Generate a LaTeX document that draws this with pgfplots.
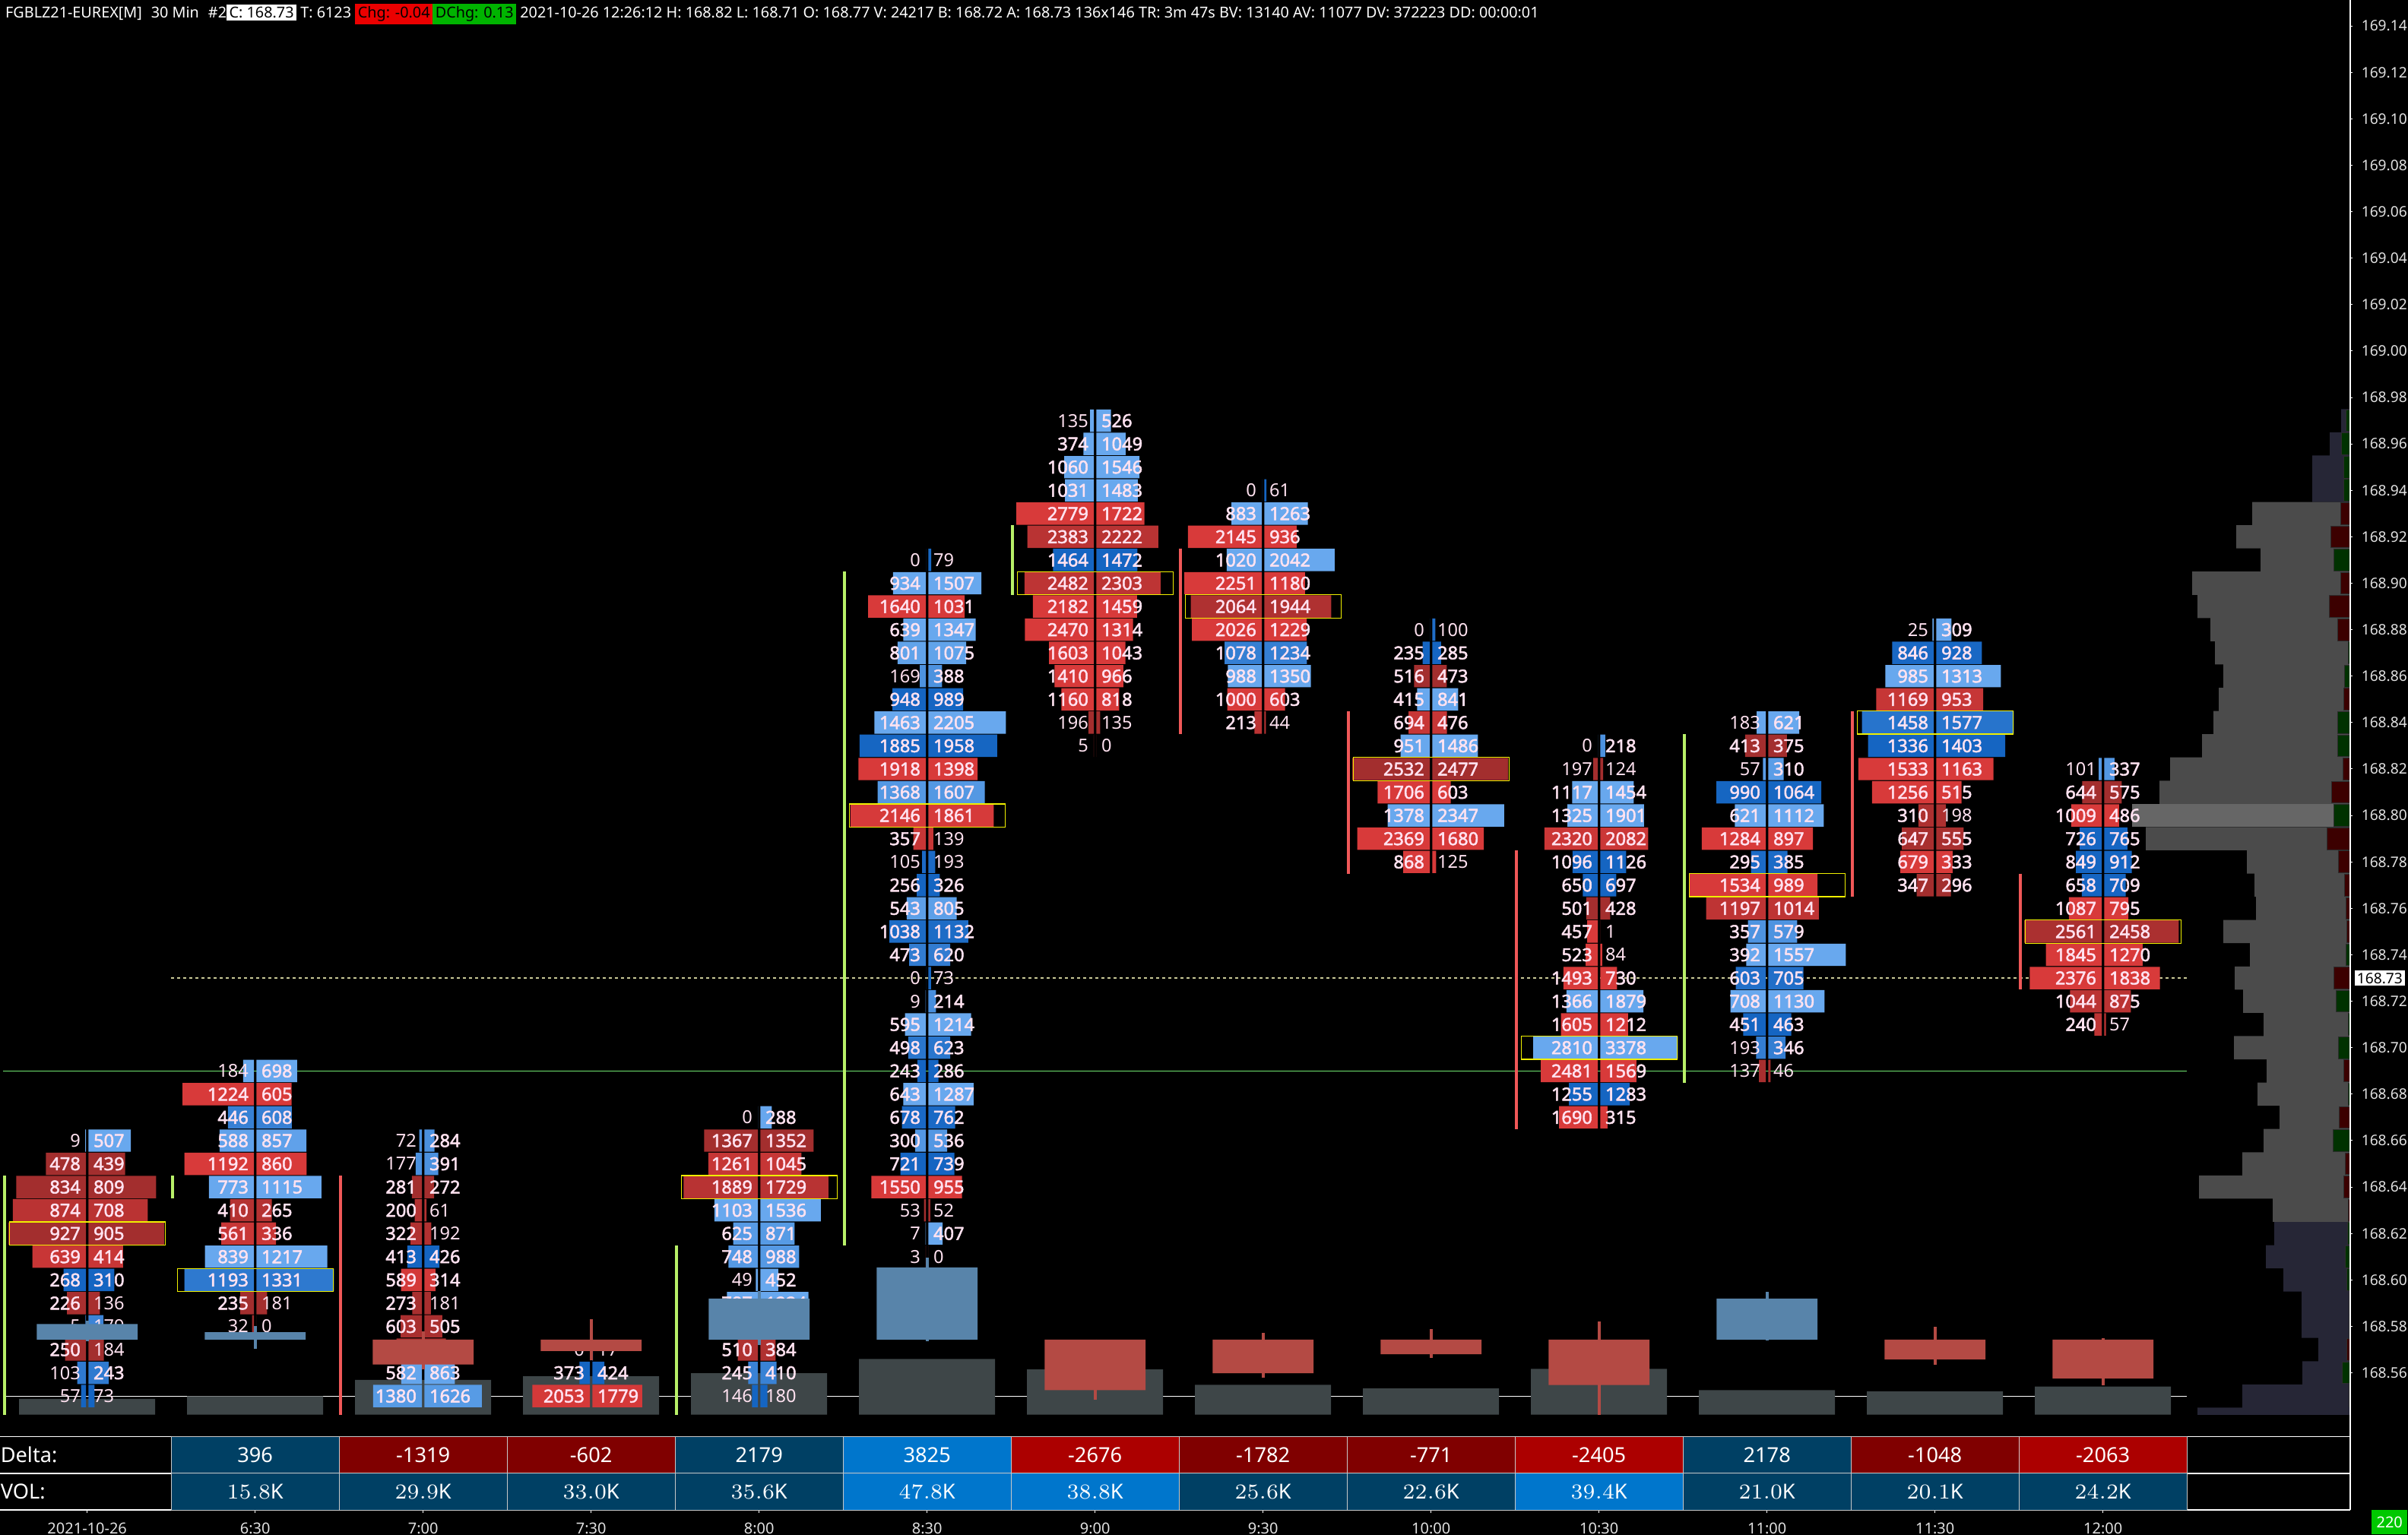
\documentclass[border=0pt]{standalone}
\usepackage{fontspec}
\setmainfont{Noto Sans}
\newfontfamily\fpB{Noto Sans}[FakeBold=2.2]
\usepackage{pgfplots}
\pgfplotsset{compat=1.18}
\usepackage{pgfplotstable}

% colours
\definecolor{fpRb}{RGB}{216,58,58}
\definecolor{fpRd}{RGB}{163,46,46}
\definecolor{fpBb}{RGB}{104,168,238}
\definecolor{fpBd}{RGB}{21,101,194}
\definecolor{fpTx}{RGB}{255,226,240}
\definecolor{fpY}{RGB}{240,240,0}
\definecolor{volG}{RGB}{62,70,72}
\definecolor{cdB}{RGB}{88,132,170}
\definecolor{cdR}{RGB}{180,74,68}
\definecolor{prG}{RGB}{75,75,75}
\definecolor{prP}{RGB}{102,102,102}
\definecolor{prN}{RGB}{38,38,54}
\definecolor{mkG}{RGB}{0,50,0}
\definecolor{mkR}{RGB}{60,0,0}
\definecolor{mkL}{RGB}{45,45,45}
\definecolor{vaG}{RGB}{184,240,104}
\definecolor{vaR}{RGB}{240,88,88}
\definecolor{lnG}{RGB}{112,232,112}
\definecolor{lnD}{RGB}{200,200,150}
\definecolor{tbDB}{RGB}{0,64,100}
\definecolor{tbBB}{RGB}{0,118,204}
\definecolor{tbDR}{RGB}{128,0,0}
\definecolor{tbBR}{RGB}{172,0,0}
\definecolor{tbL}{RGB}{200,200,200}
\definecolor{axTx}{RGB}{225,225,225}
\definecolor{hdRed}{RGB}{235,0,0}
\definecolor{hdGrn}{RGB}{0,180,0}
\definecolor{boxG}{RGB}{0,200,0}

\pgfdeclareplotmark{fpnone}{}
\pgfdeclareplotmark{fppoc}{%
  \pgfpathrectangle{\pgfpoint{-25.6pt}{-3.8pt}}{\pgfpoint{51.2pt}{7.6pt}}%
  \pgfusepathqstroke}

\newcommand\fpnum[1]{\ifnum#1<200 \else\fpB\fi #1}
\newcommand\fpcell{%
  \pgfmathtruncatemacro\fpbi{\fpb}%
  \pgfmathtruncatemacro\fpai{\fpa}%
  \pgfmathsetmacro\fpl{(\fpb/\fpm)*25.5}%
  \pgfmathsetmacro\fpr{(\fpa/\fpm)*25.5}%
  \pgfmathsetmacro\fpd{\fpa-\fpb}%
  \pgfmathtruncatemacro\fpt{max(0,min(100,(abs(\fpd)-70)/2.2))}%
  \ifdim\fpd pt<0pt\colorlet{fpc}{fpRb!\fpt!fpRd}\else\colorlet{fpc}{fpBb!\fpt!fpBd}\fi
  \pgfscope
  \pgfsetfillcolor{fpc}%
  \pgfpathrectangle{\pgfpoint{-\fpl pt-0.42pt}{-3.68pt}}{\pgfpoint{\fpl pt}{7.36pt}}%
  \pgfpathrectangle{\pgfpoint{0.42pt}{-3.68pt}}{\pgfpoint{\fpr pt}{7.36pt}}%
  \pgfusepath{fill}%
  \pgftext[right,at=\pgfpoint{-2.2pt}{0pt}]{\fontsize{5.9}{6}\selectfont\color{fpTx}\fpnum\fpbi}%
  \pgftext[left,at=\pgfpoint{2.1pt}{0pt}]{\fontsize{5.9}{6}\selectfont\color{fpTx}\fpnum\fpai}%
  \endpgfscope}
\newcommand\tbcell{%
  \pgfmathtruncatemacro\tbci{\tbc}%
  \ifcase\tbci\relax\def\tbcc{tbDB}\or\def\tbcc{tbBB}\or\def\tbcc{tbDR}\or\def\tbcc{tbBR}\fi
  \pgfscope
  \pgfsetfillcolor{\tbcc}\pgfsetstrokecolor{tbL}\pgfsetlinewidth{0.25pt}%
  \pgfpathrectangle{\pgfpoint{-27.62pt}{-6.04pt}}{\pgfpoint{55.25pt}{12.07pt}}%
  \pgfusepath{fill,stroke}%
  \pgftext{\fontsize{6.8}{7}\selectfont\color{white}\tbtext}%
  \endpgfscope}
\newcommand\tbdelta{\pgfmathtruncatemacro\tbi{\tbv}\tbi}
\newcommand\tbvol{\pgfmathprintnumber[fixed,fixed zerofill,precision=1]{\tbv}K}
\newcommand\hbx[3]{{\fboxsep=0.9pt\colorbox{#1}{\textcolor{#2}{#3}}}}

\pgfplotsset{
  fp/.style={only marks, scatter, mark=fpnone,
    visualization depends on={\thisrow{b}\as\fpb},
    visualization depends on={\thisrow{a}\as\fpa},
    visualization depends on={#1\as\fpm},
    scatter/@pre marker code/.code={\fpcell},
    scatter/@post marker code/.code={}},
  tb/.style 2 args={only marks, scatter, mark=fpnone,
    visualization depends on={\thisrow{#1}\as\tbv},
    visualization depends on={\thisrow{#1c}\as\tbc},
    scatter/@pre marker code/.code={\let\tbtext#2\tbcell},
    scatter/@post marker code/.code={}},
  lay/.style={at={(0pt,-0.5pt)}, anchor=north west, scale only axis,
    width=773pt, height=464.9pt},
}

% footprint columns: price, bid, ask
\pgfplotstableread{
y b a
168.66 9 507
168.65 478 439
168.64 834 809
168.63 874 708
168.62 927 905
168.61 639 414
168.60 268 310
168.59 226 136
168.58 5 179
168.57 250 184
168.56 103 243
168.55 57 73
168.54 21 183
}\colA
\pgfplotstableread{
y b a
168.69 184 698
168.68 1224 605
168.67 446 608
168.66 588 857
168.65 1192 860
168.64 773 1115
168.63 410 265
168.62 561 336
168.61 839 1217
168.60 1193 1331
168.59 235 181
168.58 32 0
}\colB
\pgfplotstableread{
y b a
168.66 72 284
168.65 177 391
168.64 281 272
168.63 200 61
168.62 322 192
168.61 413 426
168.60 589 314
168.59 273 181
168.58 603 505
168.57 720 610
168.56 582 863
168.55 1380 1626
168.54 2195 2044
}\colC
\pgfplotstableread{
y b a
168.57 0 17
168.56 373 424
168.55 2053 1779
168.54 2622 2530
}\colD
\pgfplotstableread{
y b a
168.67 0 288
168.66 1367 1352
168.65 1261 1045
168.64 1889 1729
168.63 1103 1536
168.62 625 871
168.61 748 988
168.60 49 452
168.59 787 1224
168.58 905 1164
168.57 510 384
168.56 245 410
168.55 146 180
168.54 232 522
}\colE
\pgfplotstableread{
y b a
168.91 0 79
168.90 934 1507
168.89 1640 1031
168.88 639 1347
168.87 801 1075
168.86 169 388
168.85 948 989
168.84 1463 2205
168.83 1885 1958
168.82 1918 1398
168.81 1368 1607
168.80 2146 1861
168.79 357 139
168.78 105 193
168.77 256 326
168.76 543 805
168.75 1038 1132
168.74 473 620
168.73 0 73
168.72 9 214
168.71 595 1214
168.70 498 623
168.69 243 286
168.68 643 1287
168.67 678 762
168.66 300 536
168.65 721 739
168.64 1550 955
168.63 53 52
168.62 7 407
168.61 3 0
}\colF
\pgfplotstableread{
y b a
168.97 135 526
168.96 374 1049
168.95 1060 1546
168.94 1031 1483
168.93 2779 1722
168.92 2383 2222
168.91 1464 1472
168.90 2482 2303
168.89 2182 1459
168.88 2470 1314
168.87 1603 1043
168.86 1410 966
168.85 1160 818
168.84 196 135
168.83 5 0
}\colG
\pgfplotstableread{
y b a
168.94 0 61
168.93 883 1263
168.92 2145 936
168.91 1020 2042
168.90 2251 1180
168.89 2064 1944
168.88 2026 1229
168.87 1078 1234
168.86 988 1350
168.85 1000 603
168.84 213 44
}\colH
\pgfplotstableread{
y b a
168.88 0 100
168.87 235 285
168.86 516 473
168.85 415 841
168.84 694 476
168.83 951 1486
168.82 2532 2477
168.81 1706 603
168.80 1378 2347
168.79 2369 1680
168.78 868 125
}\colI
\pgfplotstableread{
y b a
168.83 0 218
168.82 197 124
168.81 1117 1454
168.80 1325 1901
168.79 2320 2082
168.78 1096 1126
168.77 650 697
168.76 501 428
168.75 457 1
168.74 523 84
168.73 1493 730
168.72 1366 1879
168.71 1605 1212
168.70 2810 3378
168.69 2481 1569
168.68 1255 1283
168.67 1690 315
}\colJ
\pgfplotstableread{
y b a
168.84 183 621
168.83 413 375
168.82 57 310
168.81 990 1064
168.80 621 1112
168.79 1284 897
168.78 295 385
168.77 1534 989
168.76 1197 1014
168.75 357 579
168.74 392 1557
168.73 603 705
168.72 708 1130
168.71 451 463
168.70 193 346
168.69 137 46
}\colK
\pgfplotstableread{
y b a
168.88 25 309
168.87 846 928
168.86 985 1313
168.85 1169 953
168.84 1458 1577
168.83 1336 1403
168.82 1533 1163
168.81 1256 515
168.80 310 198
168.79 647 555
168.78 679 333
168.77 347 296
}\colL
\pgfplotstableread{
y b a
168.82 101 337
168.81 644 575
168.80 1009 486
168.79 726 765
168.78 849 912
168.77 658 709
168.76 1087 795
168.75 2561 2458
168.74 1845 1270
168.73 2376 1838
168.72 1044 875
168.71 240 57
}\colM

% delta / volume (K) table; colour codes: 0 dark blue, 1 blue, 2 dark red, 3 red
\pgfplotstableread{
x d dc v vc
1 396 0 15.8 0
2 -1319 2 29.9 0
3 -602 2 33.0 0
4 2179 0 35.6 0
5 3825 1 47.8 1
6 -2676 3 38.8 1
7 -1782 2 25.6 0
8 -771 2 22.6 0
9 -2405 3 39.4 1
10 2178 0 21.0 0
11 -1048 2 20.1 0
12 -2063 3 24.2 0
}\tabdata

\begin{document}
\begin{tikzpicture}
\fill[black] (0pt,0pt) rectangle (792pt,-505pt);

% volume bars
\begin{axis}[lay, hide axis, xmin=-0.519, xmax=13.472, ymin=0, ymax=1215.5]
\addplot[white, line width=0.3pt] coordinates {(-0.5,15.8) (12.5,15.8)};
\addplot[ybar, bar width=0.81, bar shift=0, fill=volG, draw=none] coordinates {
(0,13.5) (1,15.8) (2,29.9) (3,33.0) (4,35.6) (5,47.8) (6,38.8)
(7,25.6) (8,22.6) (9,39.4) (10,21.0) (11,20.1) (12,24.2)};
\end{axis}

% volume profile at the right edge
\begin{axis}[lay, hide axis, x dir=reverse, xmin=0, xmax=3092, ymin=168.542, ymax=169.1505]
\addplot[xbar, bar width=0.01, bar shift=0, fill=prN, draw=none] coordinates {
(12,168.97) (27,168.96) (50,168.95) (50,168.94) (100,168.62) (111,168.61) (88,168.60)
(64,168.59) (64,168.58) (42,168.57) (63,168.56) (142,168.55) (201,168.54)};
\addplot[xbar, bar width=0.01, bar shift=0, fill=prG, draw=none] coordinates {
(129,168.93) (150,168.92) (118,168.91) (208,168.90) (201,168.89) (184,168.88) (178,168.87)
(167,168.86) (173,168.85) (180,168.84) (195,168.83) (237,168.82) (251,168.81) (269,168.79)
(136,168.78) (126,168.77) (124,168.76) (167,168.75) (132,168.74) (152,168.73) (141,168.72)
(114,168.71) (153,168.70) (110,168.69) (122,168.68) (93,168.67) (114,168.66) (142,168.65)
(199,168.64) (102,168.63)};
\addplot[xbar, bar width=0.01, bar shift=0, fill=prP, draw=none] coordinates {(287,168.80)};
\addplot[xbar, bar width=0.0094, bar shift=0, fill=mkG, draw=mkL, line width=0.25pt] coordinates {
(5.7,168.97) (11.7,168.96) (8.3,168.95) (9,168.94) (21.7,168.91) (3,168.87) (7.3,168.86)
(16.3,168.84) (16.3,168.83) (21.7,168.80) (5.3,168.74) (18.7,168.72) (2.7,168.71) (15.3,168.70)
(2.7,168.68) (22.3,168.66) (3.7,168.62) (6.7,168.61) (4.7,168.60) (1.7,168.59) (10.7,168.56)
(1.7,168.55) (1,168.54)};
\addplot[xbar, bar width=0.0094, bar shift=0, fill=mkR, draw=mkL, line width=0.25pt] coordinates {
(12.3,168.93) (26,168.92) (12.3,168.90) (27.3,168.89) (16.3,168.88) (8.3,168.85) (9.3,168.82)
(24.3,168.81) (30.3,168.79) (15.3,168.78) (7.3,168.77) (5.3,168.76) (4.3,168.75) (21.3,168.73)
(8.3,168.69) (15,168.67) (6.3,168.65) (8.3,168.64) (2.3,168.63) (1.7,168.58) (4.7,168.57)};
\end{axis}

% footprint
\begin{axis}[lay, xmin=-0.519, xmax=13.472, ymin=168.542, ymax=169.1505,
  clip marker paths=true, axis line style={draw=none}, xtick=\empty,
  ytick distance=0.02, scaled y ticks=false, ytick pos=right, yticklabel pos=right,
  tick align=outside, major tick length=0.75pt, ytick style={white, line width=0.25pt},
  yticklabel style={font=\fontsize{4.8}{5}\selectfont, text=axTx, xshift=-0.6pt,
    /pgf/number format/.cd, fixed, fixed zerofill, precision=2, assume math mode=true}]
\addplot[lnG, line width=0.3pt] coordinates {(-0.5,168.69) (12.5,168.69)};
\addplot[lnD, line width=0.3pt, dash pattern=on 1pt off 1pt] coordinates {(0.5,168.73) (12.5,168.73)};
\addplot[vaG, line width=1.2pt, unbounded coords=jump] coordinates {
(-0.492,168.645) (-0.492,168.50) (0,nan) (0.508,168.645) (0.508,168.635) (0,nan)
(3.508,168.615) (3.508,168.50) (0,nan) (4.508,168.905) (4.508,168.615) (0,nan)
(5.508,168.925) (5.508,168.895) (0,nan) (9.508,168.835) (9.508,168.685)};
\addplot[vaR, line width=1.2pt, unbounded coords=jump] coordinates {
(1.508,168.645) (1.508,168.50) (0,nan) (6.508,168.915) (6.508,168.835) (0,nan)
(7.508,168.845) (7.508,168.775) (0,nan) (8.508,168.785) (8.508,168.665) (0,nan)
(10.508,168.845) (10.508,168.765) (0,nan) (11.508,168.775) (11.508,168.725)};
\addplot[fp=927] table[x expr=0, y=y] {\colA};
\addplot[fp=1331] table[x expr=1, y=y] {\colB};
\addplot[fp=2195] table[x expr=2, y=y] {\colC};
\addplot[fp=2766] table[x expr=3, y=y] {\colD};
\addplot[fp=1972] table[x expr=4, y=y] {\colE};
\addplot[fp=2205] table[x expr=5, y=y] {\colF};
\addplot[fp=2779] table[x expr=6, y=y] {\colG};
\addplot[fp=2251] table[x expr=7, y=y] {\colH};
\addplot[fp=2532] table[x expr=8, y=y] {\colI};
\addplot[fp=3378] table[x expr=9, y=y] {\colJ};
\addplot[fp=1557] table[x expr=10, y=y] {\colK};
\addplot[fp=1577] table[x expr=11, y=y] {\colL};
\addplot[fp=2561] table[x expr=12, y=y] {\colM};
\addplot[only marks, mark=fppoc, mark options={draw=fpY, line width=0.3pt}] coordinates {
(0,168.62) (1,168.60) (2,168.54) (4,168.64) (5,168.80) (6,168.90) (7,168.89)
(8,168.82) (9,168.70) (10,168.77) (11,168.84) (12,168.75)};
\end{axis}

% bar delta candles
\begin{axis}[lay, hide axis, xmin=-0.519, xmax=13.472, ymin=-3972, ymax=70865]
\addplot[ycomb, cdB, line width=1pt] coordinates {(0,1000) (1,710) (4,2585) (5,4360) (10,2530)};
\addplot[ycomb, cdB, line width=1pt] coordinates {(0,-100) (1,-500) (4,-300) (5,-90) (10,-30)};
\addplot[ycomb, cdR, line width=1pt] coordinates {(2,450) (3,1090) (6,0) (7,350) (8,550) (9,960) (11,680) (12,80)};
\addplot[ycomb, cdR, line width=1pt] coordinates {(2,-1580) (3,-1090) (6,-3200) (7,-2000) (8,-960) (9,-3970) (11,-1320) (12,-2415)};
\addplot[ybar, bar width=0.6, bar shift=0, fill=cdB, draw=none] coordinates {(0,830) (1,396) (4,2179) (5,3825) (10,2178)};
\addplot[ybar, bar width=0.6, bar shift=0, fill=cdR, draw=none] coordinates {
(2,-1319) (3,-602) (6,-2676) (7,-1782) (8,-771) (9,-2405) (11,-1048) (12,-2063)};
\end{axis}

% delta / volume table and time axis
\begin{axis}[at={(0pt,-472.6pt)}, anchor=north west, scale only axis, width=773pt, height=24.15pt,
  xmin=-0.519, xmax=13.472, ymin=0, ymax=2, clip=false,
  axis line style={draw=none}, ytick=\empty, xtick={0,...,12},
  xticklabels={2021-10-26,6:30,7:00,7:30,8:00,8:30,9:00,9:30,10:00,10:30,11:00,11:30,12:00},
  xtick pos=bottom, tick align=outside, major tick length=1pt,
  xtick style={white, line width=0.25pt},
  xticklabel style={font=\fontsize{5}{5}\selectfont, text=axTx, yshift=0.4pt}]
\addplot[tb={d}{\tbdelta}] table[x=x, y expr=1.5] {\tabdata};
\addplot[tb={v}{\tbvol}] table[x=x, y expr=0.5] {\tabdata};
\addplot[white, line width=0.4pt] coordinates {(-0.519,2) (13.472,2)};
\addplot[white, line width=0.4pt] coordinates {(-0.519,1) (13.472,1)};
\addplot[white, line width=0.4pt] coordinates {(-0.519,0) (13.472,0)};
\node[anchor=west, inner sep=0pt, text=white, font=\fontsize{6.8}{7}\selectfont] at (axis cs:-0.519,1.5) {Delta:};
\node[anchor=west, inner sep=0pt, text=white, font=\fontsize{6.8}{7}\selectfont] at (axis cs:-0.519,0.5) {VOL:};
\end{axis}

\draw[white, line width=0.3pt] (773pt,0pt) -- (773pt,-496.7pt);
\node[anchor=west, inner sep=0.7pt, fill=white, text=black, font=\fontsize{4.8}{5}\selectfont] at (774.3pt,-321.8pt) {168.73};
\node[anchor=south east, inner sep=0pt, minimum width=11.75pt, minimum height=8pt, fill=boxG, text=white,
  font=\fontsize{5}{5}\selectfont] at (792pt,-505pt) {220};
\node[anchor=west, inner sep=0pt, text=white, font=\fontsize{4.95}{5}\selectfont] at (1.6pt,-4.6pt)
  {FGBLZ21-EUREX[M]\hspace{3pt}30 Min\hspace{3pt}\#2\hbx{white}{black}{C: 168.73} T: 6123
   \hbx{hdRed}{black}{Chg: -0.04}\hbx{hdGrn}{black}{DChg: 0.13} 2021-10-26 12:26:12 H: 168.82 L: 168.71
   O: 168.77 V: 24217 B: 168.72 A: 168.73 136x146 TR: 3m 47s BV: 13140 AV: 11077 DV: 372223 DD: 00:00:01};
\pgfresetboundingbox
\path[use as bounding box] (0pt,0pt) rectangle (792pt,-505pt);
\end{tikzpicture}
\end{document}
